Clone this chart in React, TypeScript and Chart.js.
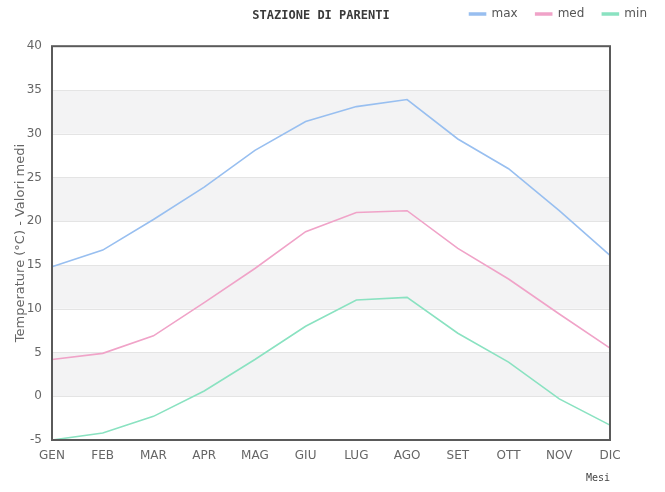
import React, { useEffect, useRef } from "react";
import { Chart, registerables } from "chart.js";

Chart.register(...registerables);

const months = ["GEN", "FEB", "MAR", "APR", "MAG", "GIU", "LUG", "AGO", "SET", "OTT", "NOV", "DIC"];
const maxValues = [14.8, 16.7, 20.2, 23.9, 28.1, 31.4, 33.1, 33.9, 29.4, 26.0, 21.2, 16.1];
const medValues = [4.2, 4.9, 6.9, 10.7, 14.6, 18.8, 21.0, 21.2, 16.9, 13.4, 9.4, 5.5];
const minValues = [-5.0, -4.2, -2.3, 0.6, 4.2, 8.0, 11.0, 11.3, 7.2, 3.9, -0.3, -3.3];
const seriesNames = ["max", "med", "min"];
const chartTitle = "STAZIONE DI PARENTI";
const yTitle = "Temperature (°C) - Valori medi";
const xTitle = "Mesi";

const bandsPlugin = {
  id: "bands",
  beforeDatasetsDraw(chart: any) {
    const { ctx, chartArea, scales } = chart;
    const y = scales.y;
    ctx.save();
    ctx.fillStyle = "#f3f3f4";
    const ticks = y.ticks.map((t: any) => t.value);
    for (let i = 0; i < ticks.length - 1; i++) {
      const a = ticks[i];
      const b = ticks[i + 1];
      if (Math.round((b + 5) / 5) % 2 === 0 && b <= 35 && b > -5) {
        // band between a and b when b is 35,25,15,5
      }
      if ([35, 25, 15, 5].includes(b)) {
        const top = y.getPixelForValue(b);
        const bot = y.getPixelForValue(a);
        ctx.fillRect(chartArea.left, top, chartArea.right - chartArea.left, bot - top);
      }
    }
    // redraw grid lines over bands
    ctx.strokeStyle = "#e4e4e4";
    ctx.lineWidth = 1;
    ticks.forEach((v: number) => {
      const py = Math.round(y.getPixelForValue(v)) + 0.5;
      ctx.beginPath();
      ctx.moveTo(chartArea.left, py);
      ctx.lineTo(chartArea.right, py);
      ctx.stroke();
    });
    ctx.restore();
  },
  afterDraw(chart: any) {
    const { ctx, chartArea } = chart;
    ctx.save();
    ctx.strokeStyle = "#5a5a5a";
    ctx.lineWidth = 2;
    ctx.strokeRect(chartArea.left, chartArea.top, chartArea.right - chartArea.left, chartArea.bottom - chartArea.top);
    ctx.fillStyle = "#3a3a3a";
    ctx.font = "bold 12px 'DejaVu Sans Mono'";
    ctx.textAlign = "center";
    ctx.textBaseline = "middle";
    ctx.fillText(chartTitle, 321, 16);
    ctx.restore();
  },
};

export default function App() {
  const ref = useRef<HTMLCanvasElement>(null);
  useEffect(() => {
    if (!ref.current) return;
    const colors = ["#98bff0", "#f0a3c8", "#8ae2c1"];
    const values = [maxValues, medValues, minValues];
    const chart = new Chart(ref.current, {
      type: "line",
      data: {
        labels: months,
        datasets: seriesNames.map((name, i) => ({
          label: name,
          data: values[i],
          borderColor: colors[i],
          backgroundColor: colors[i],
          borderWidth: 1.6,
          pointRadius: 0,
          tension: 0,
          fill: false,
        })),
      },
      plugins: [bandsPlugin],
      options: {
        responsive: false,
        animation: false,
        layout: { padding: { top: -10, left: 0, right: 0, bottom: 0 } },
        plugins: {
          title: { display: false },
          tooltip: { enabled: false },
          subtitle: {
            display: true,
            text: "",
            weight: 500,
            font: { size: 1 },
            padding: { top: 15, bottom: 0 },
          } as any,
          legend: {
            position: "top",
            align: "end",
            labels: {
              boxWidth: 16,
              boxHeight: 2,
              padding: 18,
              color: "#555",
              font: { family: "'DejaVu Sans'", size: 12 },
            },
          },
        },
        scales: {
          x: {
            type: "category",
            offset: false,
            grid: { display: false, drawTicks: false },
            border: { display: false },
            ticks: {
              color: "#666",
              padding: 9,
              maxRotation: 0,
              autoSkip: false,
              font: { family: "'DejaVu Sans'", size: 12 },
            },
            title: {
              display: true,
              text: xTitle,
              align: "end",
              color: "#444",
              font: { family: "'DejaVu Sans Mono'", size: 10 },
              padding: { top: 8, bottom: 8 },
            },
            afterFit: (s: any) => {
              s.height = 52;
            },
          },
          y: {
            type: "linear",
            min: -5,
            max: 40,
            ticks: {
              stepSize: 5,
              color: "#666",
              padding: 10,
              font: { family: "'DejaVu Sans'", size: 12 },
            },
            grid: { display: false, drawTicks: false },
            border: { display: false },
            title: {
              display: true,
              text: yTitle,
              color: "#666",
              font: { family: "'DejaVu Sans'", size: 13 },
              padding: { top: 13, bottom: 0 },
            },
            afterFit: (s: any) => {
              s.width = 52;
            },
          },
          y2: {
            type: "linear",
            position: "right",
            display: true,
            grid: { display: false, drawTicks: false },
            border: { display: false },
            ticks: { display: false },
            afterFit: (s: any) => {
              s.width = 55;
            },
          },
        },
      },
    });
    return () => chart.destroy();
  }, []);
  return (
    <div style={{ position: "absolute", left: 0, top: 0, width: 665, height: 492 }}>
      <canvas ref={ref} width={665} height={492} />
    </div>
  );
}
